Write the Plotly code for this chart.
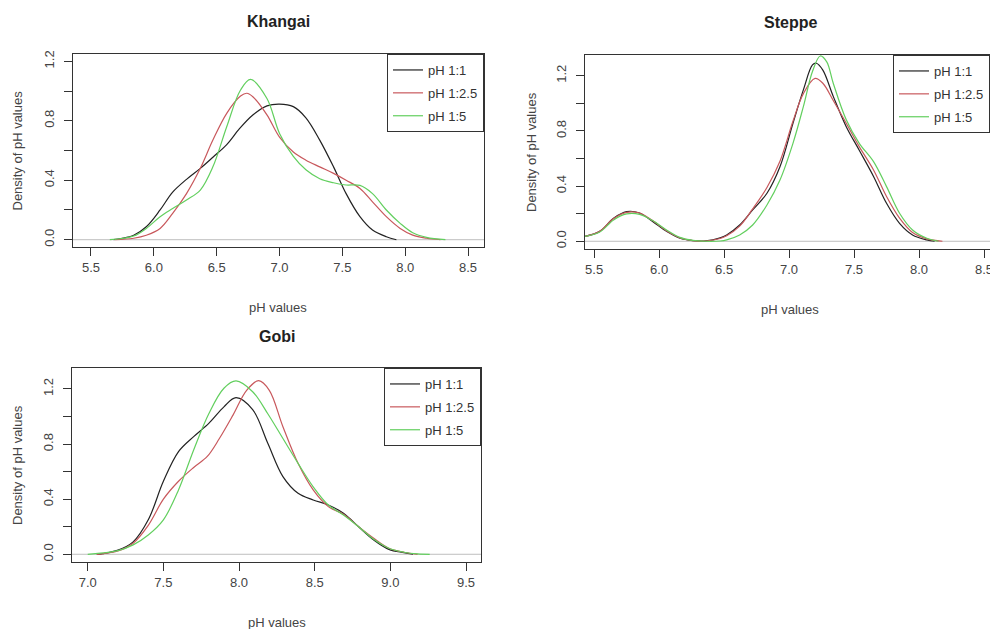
import plotly.graph_objects as go

# ---------------- data ----------------
series_names = ["pH 1:1", "pH 1:2.5", "pH 1:5"]
panel_titles = ["Khangai", "Steppe", "Gobi"]

# Khangai
khangai_x_11 = [5.68, 5.74, 5.84, 5.94, 6.05, 6.15, 6.26, 6.37, 6.47, 6.58, 6.68, 6.79, 6.90, 7.00, 7.11, 7.21, 7.32, 7.43, 7.53, 7.64, 7.74, 7.85, 7.93]
khangai_y_11 = [0.0, 0.008, 0.03, 0.087, 0.20, 0.32, 0.406, 0.48, 0.555, 0.64, 0.745, 0.84, 0.90, 0.912, 0.895, 0.82, 0.67, 0.49, 0.31, 0.155, 0.065, 0.02, 0.0]
khangai_x_125 = [5.69, 5.84, 5.94, 6.05, 6.15, 6.26, 6.37, 6.47, 6.58, 6.69, 6.74, 6.79, 6.90, 7.00, 7.11, 7.21, 7.32, 7.43, 7.53, 7.64, 7.74, 7.85, 7.96, 8.06, 8.17, 8.28]
khangai_y_125 = [0.0, 0.01, 0.03, 0.076, 0.177, 0.31, 0.48, 0.67, 0.85, 0.966, 0.985, 0.96, 0.84, 0.69, 0.59, 0.535, 0.49, 0.446, 0.40, 0.345, 0.255, 0.155, 0.076, 0.031, 0.01, 0.0]
khangai_x_15 = [5.65, 5.84, 5.94, 6.05, 6.15, 6.26, 6.37, 6.47, 6.58, 6.69, 6.77, 6.90, 7.00, 7.11, 7.21, 7.32, 7.43, 7.53, 7.64, 7.74, 7.85, 7.96, 8.06, 8.17, 8.32]
khangai_y_15 = [0.0, 0.025, 0.076, 0.155, 0.21, 0.267, 0.334, 0.49, 0.76, 1.007, 1.078, 0.95, 0.715, 0.56, 0.47, 0.41, 0.383, 0.368, 0.365, 0.31, 0.20, 0.11, 0.047, 0.016, 0.0]

# Steppe
steppe_x_11 = [5.40, 5.54, 5.65, 5.75, 5.85, 5.95, 6.06, 6.16, 6.26, 6.36, 6.47, 6.52, 6.62, 6.72, 6.83, 6.93, 7.03, 7.11, 7.18, 7.21, 7.26, 7.34, 7.44, 7.54, 7.65, 7.75, 7.85, 7.95, 8.06, 8.12]
steppe_y_11 = [0.03, 0.07, 0.167, 0.215, 0.205, 0.143, 0.07, 0.022, 0.005, 0.003, 0.025, 0.046, 0.118, 0.227, 0.348, 0.54, 0.855, 1.097, 1.278, 1.29, 1.24, 1.05, 0.83, 0.66, 0.47, 0.275, 0.13, 0.046, 0.01, 0.0]
steppe_x_125 = [5.40, 5.54, 5.65, 5.75, 5.85, 5.95, 6.06, 6.16, 6.26, 6.36, 6.47, 6.52, 6.62, 6.72, 6.83, 6.93, 7.03, 7.11, 7.20, 7.26, 7.34, 7.44, 7.54, 7.65, 7.75, 7.85, 7.95, 8.06, 8.18]
steppe_y_125 = [0.03, 0.07, 0.165, 0.21, 0.205, 0.15, 0.075, 0.025, 0.005, 0.002, 0.02, 0.04, 0.11, 0.235, 0.39, 0.58, 0.87, 1.07, 1.18, 1.145, 1.02, 0.855, 0.686, 0.517, 0.324, 0.167, 0.063, 0.017, 0.0]
steppe_x_15 = [5.40, 5.54, 5.65, 5.75, 5.85, 5.95, 6.06, 6.16, 6.26, 6.36, 6.47, 6.52, 6.62, 6.72, 6.83, 6.93, 7.03, 7.11, 7.18, 7.24, 7.29, 7.34, 7.44, 7.54, 7.65, 7.75, 7.85, 7.95, 8.06, 8.15]
steppe_y_15 = [0.03, 0.065, 0.155, 0.198, 0.195, 0.15, 0.08, 0.028, 0.006, 0.0, 0.002, 0.01, 0.046, 0.118, 0.263, 0.444, 0.71, 0.976, 1.23, 1.343, 1.30, 1.145, 0.88, 0.71, 0.577, 0.396, 0.203, 0.082, 0.022, 0.0]

# Gobi
gobi_x_11 = [7.06, 7.1, 7.2, 7.3, 7.4, 7.5, 7.6, 7.7, 7.8, 7.9, 7.98, 8.09, 8.19, 8.29, 8.39, 8.49, 8.59, 8.69, 8.79, 8.89, 8.99, 9.09, 9.15]
gobi_y_11 = [0.0, 0.005, 0.03, 0.09, 0.25, 0.53, 0.745, 0.854, 0.95, 1.07, 1.137, 1.05, 0.806, 0.564, 0.443, 0.394, 0.358, 0.298, 0.20, 0.104, 0.036, 0.012, 0.0]
gobi_x_125 = [7.06, 7.2, 7.3, 7.4, 7.5, 7.6, 7.7, 7.79, 7.87, 7.96, 8.05, 8.13, 8.2, 8.29, 8.39, 8.49, 8.59, 8.69, 8.79, 8.89, 8.99, 9.09, 9.18]
gobi_y_125 = [0.0, 0.024, 0.08, 0.21, 0.40, 0.53, 0.63, 0.71, 0.84, 1.01, 1.19, 1.26, 1.19, 0.926, 0.66, 0.467, 0.346, 0.29, 0.20, 0.116, 0.044, 0.015, 0.0]
gobi_x_15 = [7.0, 7.2, 7.3, 7.4, 7.5, 7.6, 7.7, 7.8, 7.9, 7.98, 8.09, 8.19, 8.29, 8.39, 8.49, 8.59, 8.69, 8.79, 8.89, 8.99, 9.09, 9.18, 9.26]
gobi_y_15 = [0.0, 0.027, 0.068, 0.14, 0.25, 0.467, 0.757, 1.02, 1.205, 1.258, 1.18, 1.02, 0.84, 0.66, 0.49, 0.358, 0.285, 0.20, 0.109, 0.044, 0.015, 0.003, 0.0]

x_ticks_khangai = [5.5, 6.0, 6.5, 7.0, 7.5, 8.0, 8.5]
x_ticks_steppe = [5.5, 6.0, 6.5, 7.0, 7.5, 8.0, 8.5]
x_ticks_gobi = [7.0, 7.5, 8.0, 8.5, 9.0, 9.5]
y_ticks = [0.0, 0.2, 0.4, 0.6, 0.8, 1.0, 1.2]
y_tick_text = ["0.0", "", "0.4", "", "0.8", "", "1.2"]

# ---------------- styling ----------------
colors = ["#222222", "#C8585C", "#62CF5E"]
FONT = "Liberation Sans, Arial, sans-serif"
AX = "#333333"
W, H = 990, 629

panels = [
    dict(series=[(khangai_x_11, khangai_y_11), (khangai_x_125, khangai_y_125), (khangai_x_15, khangai_y_15)],
         xticks=x_ticks_khangai, xrange=[5.357, 8.627], yrange=[-0.049, 1.249],
         px=(73, 484), py=(54, 247), title_x=278, leg_x=484, leg_anchor="right", ylab_x=17),
    dict(series=[(steppe_x_11, steppe_y_11), (steppe_x_125, steppe_y_125), (steppe_x_15, steppe_y_15)],
         xticks=x_ticks_steppe, xrange=[5.43, 8.546], yrange=[-0.056, 1.35],
         px=(585, 990), py=(55, 249), title_x=790, leg_x=893, leg_anchor="left", ylab_x=531),
    dict(series=[(gobi_x_11, gobi_y_11), (gobi_x_125, gobi_y_125), (gobi_x_15, gobi_y_15)],
         xticks=x_ticks_gobi, xrange=[6.896, 9.599], yrange=[-0.056, 1.352],
         px=(72, 481), py=(368, 562), title_x=277, leg_x=481, leg_anchor="right", ylab_x=17),
]

fig = go.Figure()
layout = dict(
    width=W, height=H, margin=dict(l=0, r=0, t=0, b=0, autoexpand=False),
    paper_bgcolor="white", plot_bgcolor="white",
    font=dict(family=FONT, size=13, color=AX),
    showlegend=True,
)
annotations = []
shapes = []

for i, p in enumerate(panels):
    n = "" if i == 0 else str(i + 1)
    xa, ya = "x" + n, "y" + n
    leg = "legend" + n
    for j, (xs, ys) in enumerate(p["series"]):
        fig.add_trace(go.Scatter(
            x=xs, y=ys, mode="lines", name=series_names[j],
            line=dict(color=colors[j], width=1.2, shape="spline", smoothing=1.0),
            xaxis=xa, yaxis=ya, legend=leg, legendgroup=f"{i}-{j}",
            hoverinfo="skip",
        ))
    x0, x1 = p["px"]
    y0, y1 = p["py"]
    dom_x = [x0 / W, x1 / W]
    dom_y = [1 - y1 / H, 1 - y0 / H]
    common = dict(
        ticks="outside", ticklen=8, tickcolor=AX, tickwidth=1,
        showline=True, linecolor=AX, linewidth=1, mirror=True,
        showgrid=False, zeroline=False, tickfont=dict(size=13, color="#444"),
        ticklabeloverflow="allow",
    )
    layout["xaxis" + n] = dict(
        domain=dom_x, range=p["xrange"], anchor=ya,
        tickvals=p["xticks"], ticktext=[f"{v:.1f}" for v in p["xticks"]],
        ticklabelstandoff=0, **common,
    )
    layout["yaxis" + n] = dict(
        domain=dom_y, range=p["yrange"], anchor=xa,
        tickvals=y_ticks, ticktext=y_tick_text, tickangle=-90,
        ticklabelstandoff=5, **common,
    )
    layout[leg] = dict(
        x=p["leg_x"] / W, y=1 - y0 / H, xanchor=p["leg_anchor"], yanchor="top",
        xref="paper", yref="paper",
        bordercolor=AX, borderwidth=1, bgcolor="white",
        font=dict(size=13, color="#333"), tracegroupgap=3,
    )
    shapes.append(dict(type="line", xref=xa + " domain", yref=ya, x0=0, x1=1, y0=0, y1=0,
                       line=dict(color="#BEBEBE", width=1), layer="below"))
    cx = p["title_x"]
    annotations.append(dict(text=f"<b>{panel_titles[i]}</b>", x=cx / W, y=1 - (y0 - 32) / H,
                            xref="paper", yref="paper", showarrow=False,
                            font=dict(size=16, color="#222"), xanchor="center", yanchor="middle"))
    annotations.append(dict(text="pH values", x=cx / W, y=1 - (y1 + 60) / H,
                            xref="paper", yref="paper", showarrow=False,
                            font=dict(size=13, color="#444"), xanchor="center", yanchor="middle"))
    annotations.append(dict(text="Density of pH values", x=p["ylab_x"] / W, y=1 - ((y0 + y1) / 2) / H,
                            xref="paper", yref="paper", showarrow=False, textangle=-90,
                            font=dict(size=13, color="#444"), xanchor="center", yanchor="middle"))

layout["annotations"] = annotations
layout["shapes"] = shapes
fig.update_layout(**layout)
fig.write_html("out.html", config={"displayModeBar": False},
               post_script="document.body.style.margin='0';document.body.style.overflow='hidden';")
